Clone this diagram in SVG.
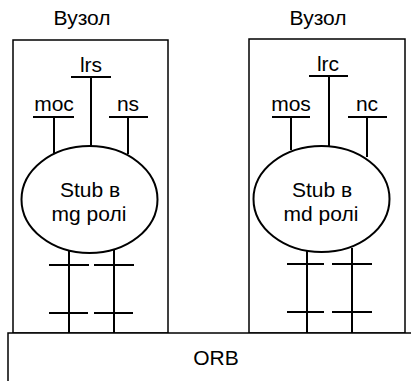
<svg xmlns="http://www.w3.org/2000/svg" width="411" height="381" viewBox="0 0 411 381">
<style>
text{font-family:"Liberation Sans",Arial,sans-serif;font-size:21px;fill:#000;text-anchor:middle}
.box{fill:#fff;stroke:#000;stroke-width:1.5}
.ln{stroke:#000;stroke-width:2;fill:none}
.el{fill:#fff;stroke:#000;stroke-width:2}
</style>
<rect width="411" height="381" fill="#fff"/>
<g id="node-left">
<text x="82" y="25">Вузол</text>
<rect class="box" x="13" y="40" width="155" height="293"/>
</g>
<g id="node-right">
<text x="318" y="25">Вузол</text>
<rect class="box" x="249" y="39" width="156" height="294"/>
</g>
<g id="orb">
<rect class="box" x="8" y="333" width="410" height="60"/>
<text x="216" y="365">ORB</text>
</g>
<g id="connectors">
<path class="ln" d="M71 77H111M91 77V146M33 117H74M54 117V153M109 117H148M128 117V154"/>
<path class="ln" d="M69 248V333M114 248V333M49 265H89M94 265H134M49 313H88M94 313H133"/>
<path class="ln" d="M309 76H348M329 76V146M272 117H310M291 117V150M348 117H387M367 117V157"/>
<path class="ln" d="M307 248V333M352 248V333M287 264H324M332 264H372M287 312H324M332 312H372"/>
</g>
<g id="labels">
<text x="91" y="72">lrs</text>
<text x="54" y="111">moc</text>
<text x="128" y="111">ns</text>
<text x="328" y="71">lrc</text>
<text x="291" y="111">mos</text>
<text x="367" y="111">nc</text>
</g>
<g id="stub-left">
<ellipse class="el" cx="89.5" cy="199.5" rx="68" ry="53.5"/>
<text x="90" y="197">Stub в</text>
<text x="89" y="221">mg ролі</text>
</g>
<g id="stub-right">
<ellipse class="el" cx="321.5" cy="199" rx="68" ry="53"/>
<text x="322" y="197">Stub в</text>
<text x="321" y="221">md ролі</text>
</g>
</svg>
